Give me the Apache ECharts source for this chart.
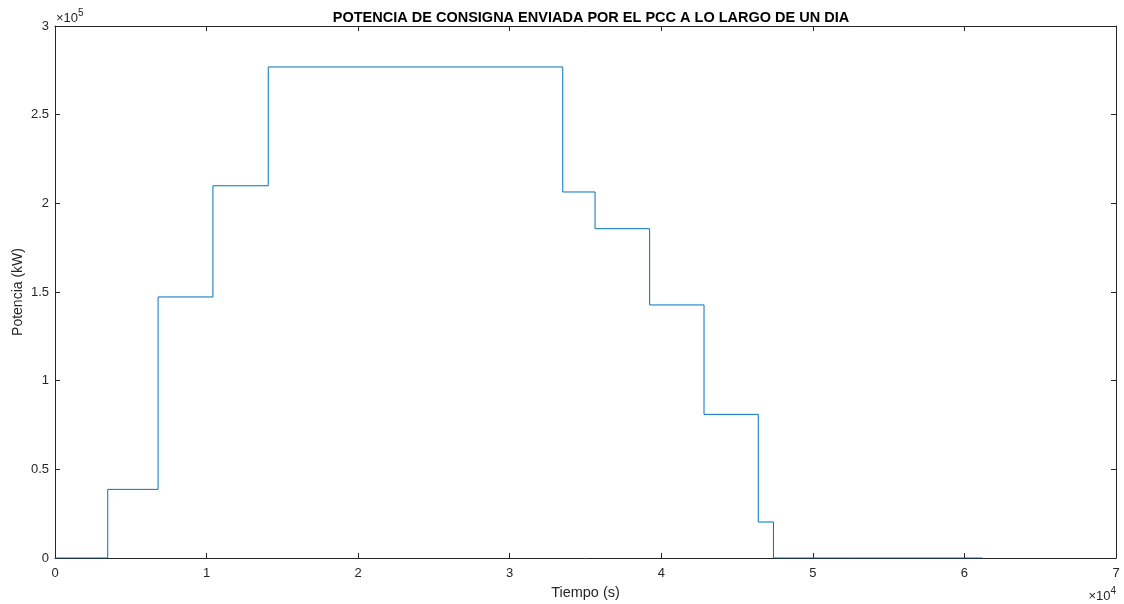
<!DOCTYPE html>
<html>
<head>
<meta charset="utf-8">
<script src="https://cdn.jsdelivr.net/npm/echarts@6/dist/echarts.min.js"></script>
<style>
  html, body { margin: 0; padding: 0; background: #fff; }
  #chart { width: 1124px; height: 604px; }
</style>
</head>
<body>
<div id="chart"></div>
<script>
// Data (time in s, power in kW) — each power holds from its time until the next time
const times  = [0, 3480, 6800, 10420, 14070, 33500, 35630, 39230, 42820, 46400, 47400, 61180];
const powers = [0, 38700, 147200, 209900, 276900, 206400, 185700, 142700, 81000, 20300, 0, 0];
const xTicks = [0, 1, 2, 3, 4, 5, 6, 7];          // ×10^4
const yTicks = [0, 0.5, 1, 1.5, 2, 2.5, 3];       // ×10^5
const titleText = 'POTENCIA DE CONSIGNA ENVIADA POR EL PCC A LO LARGO DE UN DIA';
const xName = 'Tiempo (s)';
const yName = 'Potencia (kW)';

const FONT = '"Liberation Sans", Arial, Helvetica, sans-serif';
const AX = '#262626';

const chart = echarts.init(document.getElementById('chart'), null, { renderer: 'canvas' });
const fmtX = v => { const t = v / 1e4; return xTicks.includes(t) ? String(t) : ''; };
const fmtY = v => { const t = v / 1e5; return yTicks.includes(t) ? String(t) : ''; };

const axisCommon = {
  type: 'value',
  axisLine: { show: true, onZero: false, lineStyle: { color: AX, width: 1 } },
  axisTick: { show: true, inside: true, length: 5, lineStyle: { color: AX } },
  splitLine: { show: false }
};

chart.setOption({
  animation: false,
  backgroundColor: '#fff',
  title: {
    text: titleText,
    left: 586, top: 5, textAlign: 'center',
    textStyle: { fontFamily: FONT, fontSize: 14.5, fontWeight: 'bold', color: '#000' }
  },
  grid: { left: 55, right: 8, top: 26, bottom: 46, containLabel: false, outerBoundsMode: 'none' },
  xAxis: [
    Object.assign({}, axisCommon, {
      position: 'bottom', min: 0, max: 70000, interval: 10000,
      axisLabel: { formatter: fmtX, color: AX, fontFamily: FONT, fontSize: 13, margin: 9 },
      name: xName, nameLocation: 'middle', nameGap: 27,
      nameTextStyle: { fontFamily: FONT, fontSize: 14.5, color: AX }
    }),
    Object.assign({}, axisCommon, {
      position: 'top', min: 0, max: 70000, interval: 10000,
      axisLabel: { show: false }
    })
  ],
  yAxis: [
    Object.assign({}, axisCommon, {
      position: 'left', min: 0, max: 300000, interval: 50000,
      axisLabel: { formatter: fmtY, color: AX, fontFamily: FONT, fontSize: 13, margin: 6 },
      name: yName, nameLocation: 'middle', nameGap: 30, nameMoveOverlap: false,
      nameTextStyle: { fontFamily: FONT, fontSize: 14, color: AX }
    }),
    Object.assign({}, axisCommon, {
      position: 'right', min: 0, max: 300000, interval: 50000,
      axisLabel: { show: false }
    })
  ],
  graphic: [
    {
      type: 'text', left: 56, top: 8,
      style: {
        text: '{a|×10}{b|5}',
        rich: {
          a: { fontFamily: FONT, fontSize: 13, fill: AX, verticalAlign: 'bottom' },
          b: { fontFamily: FONT, fontSize: 10, fill: AX, verticalAlign: 'top', padding: [0, 0, 7, 0] }
        }
      }
    },
    {
      type: 'text', right: 8, top: 586,
      style: {
        text: '{a|×10}{b|4}',
        rich: {
          a: { fontFamily: FONT, fontSize: 13, fill: AX, verticalAlign: 'bottom' },
          b: { fontFamily: FONT, fontSize: 10, fill: AX, verticalAlign: 'top', padding: [0, 0, 7, 0] }
        }
      }
    }
  ],
  series: [{
    type: 'line',
    step: 'end',
    xAxisIndex: 0, yAxisIndex: 0,
    showSymbol: false,
    data: times.map((t, i) => [t, powers[i]]),
    lineStyle: { color: '#0072BD', width: 1 },
    itemStyle: { color: '#0072BD' }
  }]
});
</script>
</body>
</html>
